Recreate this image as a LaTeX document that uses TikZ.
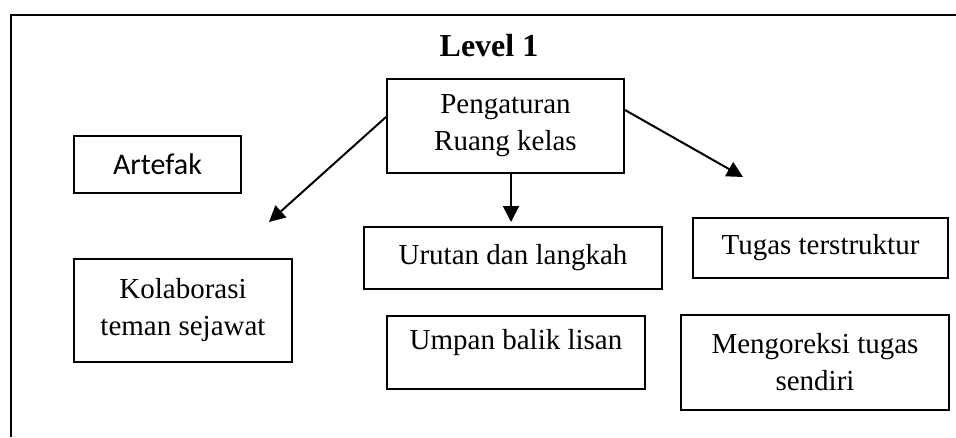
\documentclass[tikz,border=0pt]{standalone}
\usepackage{fontspec}
\setmainfont{Liberation Serif}
\newfontfamily\carlito{Carlito}
\usetikzlibrary{arrows.meta,positioning}
\tikzstyle{recNode} = [rectangle, draw=black, line width=2pt, inner sep=0pt, align=center, font=\fontsize{29}{37}\selectfont]
\tikzstyle{recNodeS} = [recNode, font=\carlito\fontsize{30}{36}\selectfont]
\tikzstyle{titleNode} = [font=\bfseries\fontsize{32}{40}\selectfont]
\tikzstyle{arrow} = [line width=2pt,-{Triangle[length=16pt,width=16pt]},draw=black]
\tikzstyle{frame} = [line width=2.3pt]

\begin{document}
\begin{tikzpicture}[x=1pt,y=-1pt]
        \useasboundingbox (0,0) rectangle (956,437);
        \draw [frame] (956,15) -- (11,15) -- (11,437);

        \node (title) [titleNode] at (489,46) {Level 1};
        \node (pengaturan) [recNode, minimum width=237pt, minimum height=94pt] at (505.5,126) {Pengaturan\\Ruang kelas};
        \node (artefak) [recNodeS, minimum width=167pt, minimum height=57pt] at (157.5,164.5) {Artefak};
        \node (kolab) [recNode, minimum width=218pt, minimum height=103pt] at (183,310.5) {Kolaborasi\\teman sejawat};
        \node (urutan) [recNode, minimum width=298pt, minimum height=62pt] at (513,258) {Urutan dan langkah};
        \node (umpan) [recNode, minimum width=258pt, minimum height=73pt, text height=19pt, text depth=25pt] at (516,352.5) {Umpan balik lisan};
        \node (tugas) [recNode, minimum width=255pt, minimum height=60pt] at (820.5,248) {Tugas terstruktur};
        \node (koreksi) [recNode, minimum width=268pt, minimum height=95pt] at (815,362.5) {Mengoreksi tugas\\sendiri};

        \coordinate (tipL) at (269,222);
        \coordinate (tipD) at (511,222);
        \coordinate (tipR) at (743,177);

        \draw [arrow] ([yshift=9pt]pengaturan.west) -- (tipL);
        \draw [arrow] ([xshift=5.5pt]pengaturan.south) -- (tipD);
        \draw [arrow] ([yshift=16pt]pengaturan.east) -- (tipR);

        \end{tikzpicture}
\end{document}
